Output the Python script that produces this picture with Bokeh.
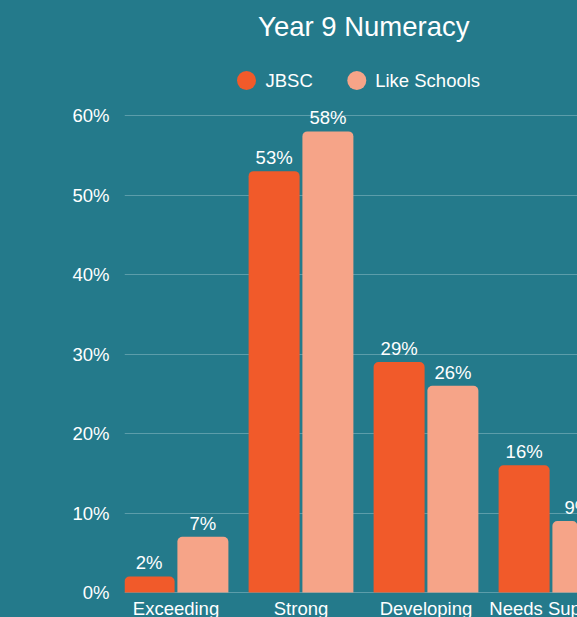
from bokeh.plotting import figure
from bokeh.models import ColumnDataSource, Range1d, FixedTicker, Label
from bokeh.core.properties import value
from bokeh.embed import file_html
from bokeh.resources import INLINE

# ---- data ----
categories = ["Exceeding", "Strong", "Developing", "Needs Support"]
jbsc = [2, 53, 29, 16]
like_schools = [7, 58, 26, 9]
series_names = ["JBSC", "Like Schools"]
y_ticks = [0, 10, 20, 30, 40, 50, 60]
y_tick_labels = ["0%", "10%", "20%", "30%", "40%", "50%", "60%"]

# ---- style ----
BG = "#247A8B"
C_JBSC = "#F15A2A"
C_LIKE = "#F6A488"
GRID = "#5C9DAA"
FONT = "Liberation Sans"
FS_PX = 18.5
FS = "%spx" % FS_PX
TITLE_PX = 27.5

W, H = 577, 617
FRAME_LEFT = 124
Y_ZERO = 592            # page y of the 0 % line
PX_PER_UNIT_Y = 7.95    # pixels per 1 %
PX_PER_CAT = 125.0
X0 = 0.088
SHIFT = 0.38            # baseline correction (fraction of font size)

p = figure(width=W, height=H, output_backend="svg", toolbar_location=None,
           title=None, x_axis_location=None,
           x_range=Range1d(X0, X0 + (W - FRAME_LEFT) / PX_PER_CAT),
           y_range=Range1d(-(H - Y_ZERO) / PX_PER_UNIT_Y, Y_ZERO / PX_PER_UNIT_Y),
           min_border_left=FRAME_LEFT, min_border_right=0, min_border_top=0,
           min_border_bottom=0)
p.background_fill_color = None
p.border_fill_color = None
p.outline_line_color = None

# grid
p.xgrid.grid_line_color = None
p.ygrid.grid_line_color = GRID
p.ygrid.grid_line_width = 1
p.yaxis.ticker = FixedTicker(ticks=y_ticks)
p.ygrid.ticker = FixedTicker(ticks=y_ticks)

# y axis
p.yaxis.major_label_overrides = {t: l for t, l in zip(y_ticks, y_tick_labels)}
p.yaxis.axis_line_color = None
p.yaxis.major_tick_line_color = None
p.yaxis.minor_tick_line_color = None
p.yaxis.major_tick_out = 0
p.yaxis.major_tick_in = 0
p.yaxis.minor_tick_out = 0
p.yaxis.minor_tick_in = 0
p.yaxis.major_label_standoff = 15
p.yaxis.major_label_text_color = "white"
p.yaxis.major_label_text_font = FONT
p.yaxis.major_label_text_font_size = FS

def dx(px):
    return X0 + (px - FRAME_LEFT) / PX_PER_CAT

def dy(py, size=0.0):
    # page y of a text baseline -> data y (with rendering correction)
    return (Y_ZERO - (py - SHIFT * size)) / PX_PER_UNIT_Y

# category labels (x axis)
x_centers = [i + 0.5 for i in range(len(categories))]
cat_src = ColumnDataSource(dict(x=x_centers, y=[dy(615, FS_PX)] * len(categories),
                                text=categories))
p.text(x="x", y="y", text="text", source=cat_src, text_align="center",
       text_baseline="alphabetic", text_color="white",
       text_font=value(FONT), text_font_size=FS)

# bars
OFF = 0.2152
BW = 0.408
GAP = (6.7 + SHIFT * FS_PX) / PX_PER_UNIT_Y
src_a = ColumnDataSource(dict(x=[c - OFF for c in x_centers], top=jbsc,
                              lab=[f"{v}%" for v in jbsc],
                              ly=[v + GAP for v in jbsc]))
src_b = ColumnDataSource(dict(x=[c + OFF for c in x_centers], top=like_schools,
                              lab=[f"{v}%" for v in like_schools],
                              ly=[v + GAP for v in like_schools]))
p.vbar(x="x", top="top", width=BW, bottom=0, source=src_a, fill_color=C_JBSC,
       line_color=None, border_radius=(5, 5, 0, 0))
p.vbar(x="x", top="top", width=BW, bottom=0, source=src_b, fill_color=C_LIKE,
       line_color=None, border_radius=(5, 5, 0, 0))

for s in (src_a, src_b):
    p.text(x="x", y="ly", text="lab", source=s, text_align="center",
           text_baseline="alphabetic", text_color="white",
           text_font=value(FONT), text_font_size=FS)

# title
p.add_layout(Label(x=dx(363.3), y=dy(36.7, TITLE_PX), text="Year 9 Numeracy",
                   text_align="center", text_baseline="alphabetic",
                   text_color="white", text_font=FONT,
                   text_font_size="%spx" % TITLE_PX))

# legend
p.scatter(x=[dx(246), dx(356.3)], y=[dy(80), dy(80)], size=19,
          fill_color=[C_JBSC, C_LIKE], line_color=None, marker="circle")
p.add_layout(Label(x=dx(265), y=dy(87.3, FS_PX), text=series_names[0],
                   text_align="left", text_baseline="alphabetic",
                   text_color="white", text_font=FONT, text_font_size=FS))
p.add_layout(Label(x=dx(374.7), y=dy(87.3, FS_PX), text=series_names[1],
                   text_align="left", text_baseline="alphabetic",
                   text_color="white", text_font=FONT, text_font_size=FS))

html = file_html(p, INLINE)
style = "<style>html, body { background-color: %s; }</style>" % BG
if "</head>" in html:
    html = html.replace("</head>", style + "</head>", 1)
else:
    html = style + html
open("out.html", "w").write(html)
